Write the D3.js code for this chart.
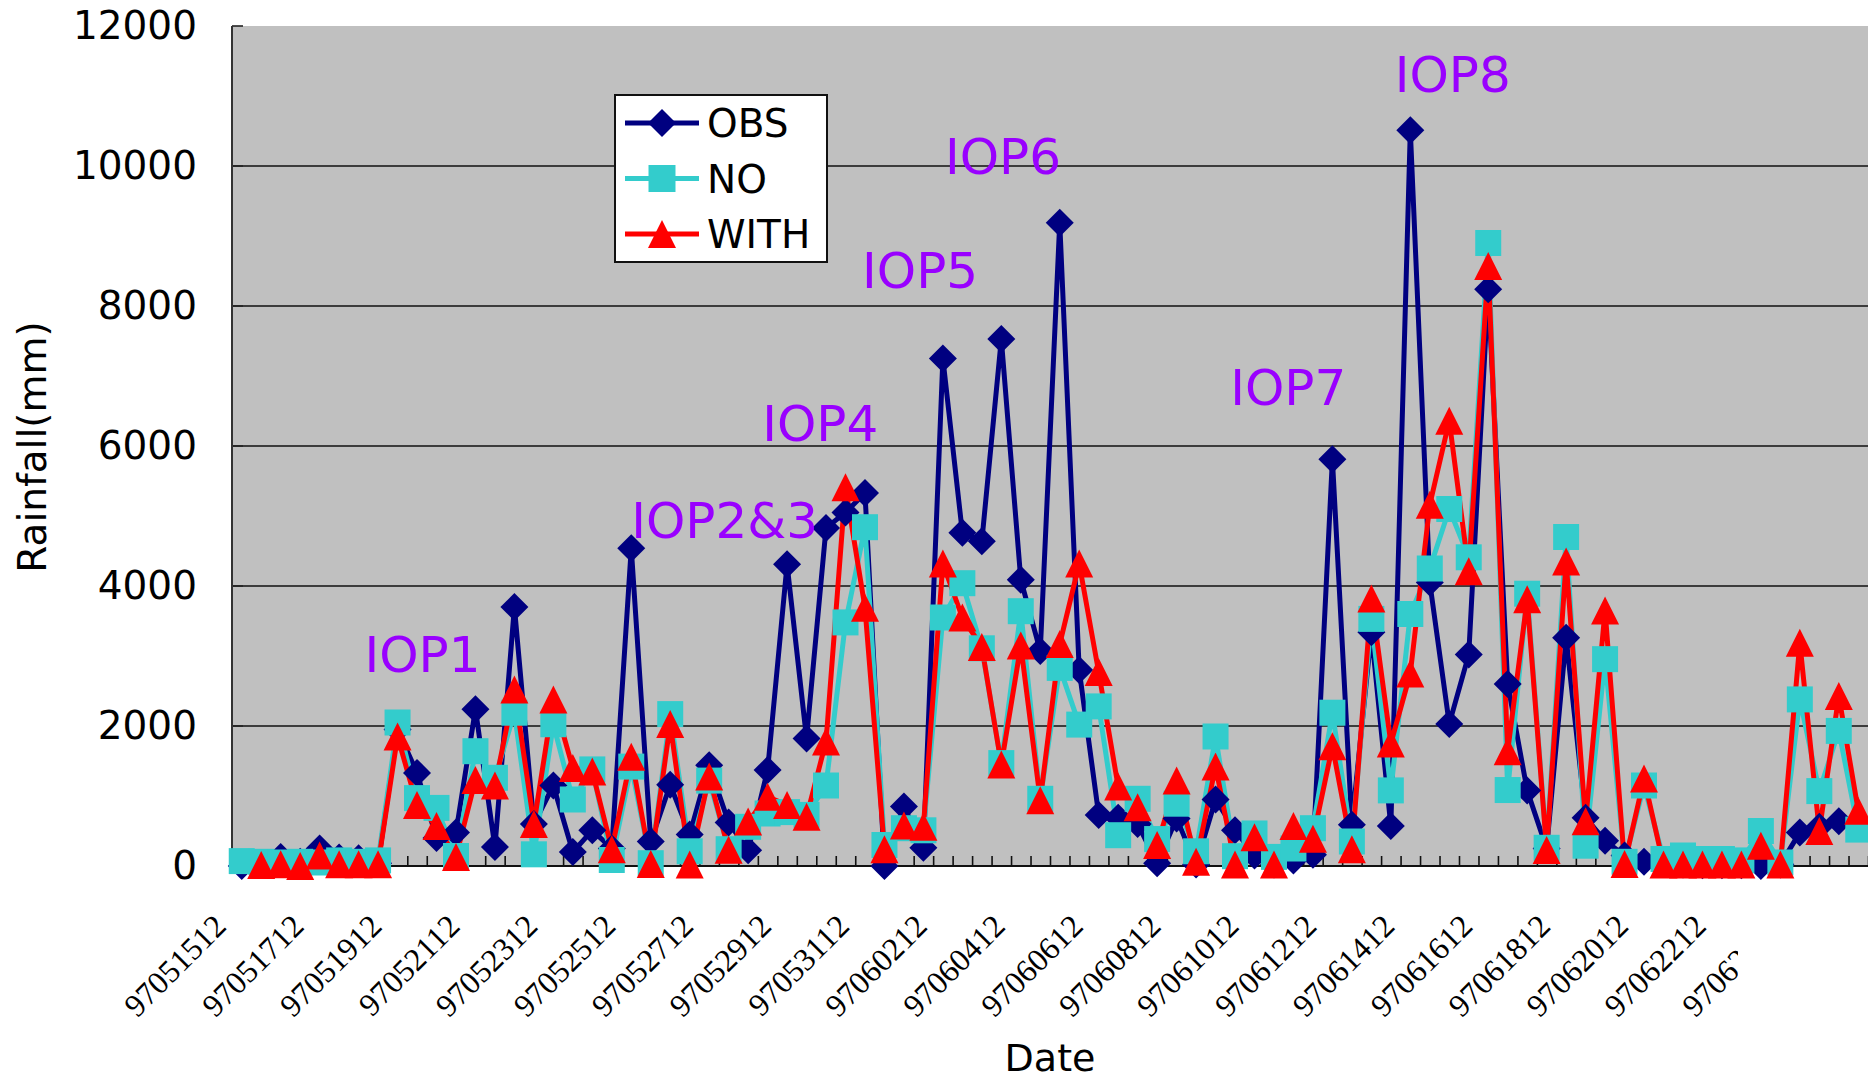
<!DOCTYPE html>
<html><head><meta charset="utf-8">
<script src="https://cdn.jsdelivr.net/npm/d3@7"></script>
<style>html,body{margin:0;padding:0;background:#fff;overflow:hidden;} svg{display:block;}</style>
</head><body><svg id="chart" width="1868" height="1082"></svg>
<script>
// ---------------- data ----------------
const categories = [
"97051512","97051600","97051612","97051700","97051712","97051800","97051812","97051900",
"97051912","97052000","97052012","97052100","97052112","97052200","97052212","97052300",
"97052312","97052400","97052412","97052500","97052512","97052600","97052612","97052700",
"97052712","97052800","97052812","97052900","97052912","97053000","97053012","97053100",
"97053112","97060100","97060112","97060200","97060212","97060300","97060312","97060400",
"97060412","97060500","97060512","97060600","97060612","97060700","97060712","97060800",
"97060812","97060900","97060912","97061000","97061012","97061100","97061112","97061200",
"97061212","97061300","97061312","97061400","97061412","97061500","97061512","97061600",
"97061612","97061700","97061712","97061800","97061812","97061900","97061912","97062000",
"97062012","97062100","97062112","97062200","97062212","97062300","97062312","97062400",
"97062412","97062500","97062512","97062600"];

const obs = [
0,20,130,60,250,120,110,40,
1950,1330,400,480,2240,270,3700,600,
1150,200,510,250,4540,350,1160,450,
1440,620,225,1370,4310,1820,4830,5050,
5330,0,850,260,7250,4760,4640,7530,
4090,3070,9190,2800,730,690,600,40,
680,20,950,510,150,20,80,160,
5810,590,3340,570,10510,4050,2030,3020,
8240,2600,1080,250,3260,690,360,150,
60,50,20,10,10,10,0,20,
480,560,640,600];

const noDA = [
70,60,50,60,50,80,60,80,
2050,970,830,143,1640,1260,2190,167,
2025,950,1380,86,1420,40,2170,210,
1220,240,560,750,770,730,1150,3480,
4840,300,540,510,3550,4040,3110,1470,
3640,960,2830,2020,2280,440,960,385,
890,210,1850,140,465,130,250,540,
2190,350,3530,1080,3600,4250,5100,4410,
8900,1085,3890,260,4700,290,2955,60,
1150,100,150,100,100,80,500,50,
2380,1070,1930,520];

const withDA = [
null,15,25,0,150,25,25,25,
1850,870,570,130,1230,1150,2520,600,
2380,1400,1350,240,1560,30,2030,20,
1280,232,634,990,870,705,1780,5410,
3690,240,580,560,4320,3550,3130,1450,
3150,940,3170,4320,2770,1135,840,300,
1220,60,1420,20,410,20,570,390,
1710,240,3820,1750,2750,5160,6360,4210,
8570,1640,3810,230,4350,640,3650,30,
1250,20,20,20,20,20,290,20,
3190,500,2430,790];

const seriesNames = ["OBS", "NO", "WITH"];
const yTicks = [0, 2000, 4000, 6000, 8000, 10000, 12000];
const labelStep = 4;

// IOP annotations, placed in data units (category slot, rainfall value)
const iopText  = ["IOP1", "IOP2&3", "IOP4", "IOP5", "IOP6", "IOP7", "IOP8"];
const iopSlot  = [6.80, 20.50, 27.22, 32.35, 36.61, 51.25, 59.70];
const iopValue = [2772, 4687, 6073, 8259, 9889, 6588, 11060];

// ---------------- layout / style ----------------
const W = 1868, H = 1082;
const M = {left: 232, right: 1868, top: 26, bottom: 866};
const colors = {OBS: "#000080", NO: "#33CCCC", WITH: "#FF0000"};
const shapes = {OBS: "diamond", NO: "square", WITH: "triangle"};
const sansFont = "'DejaVu Sans', Verdana, sans-serif";
const serifFont = "'Liberation Serif', 'Times New Roman', serif";

const svg = d3.select("#chart");

const x = d3.scaleBand().domain(categories).range([M.left, M.right]).paddingInner(0).paddingOuter(0);
const slot = d3.scaleLinear().domain([0, categories.length]).range([M.left, M.right]);
const y = d3.scaleLinear().domain([0, 12000]).range([M.bottom, M.top]);
const cx = i => x(categories[i]) + x.bandwidth() / 2;

function markerPath(type, s) {
  const h = s / 2;
  if (type === "diamond") return `M0,${-h}L${h},0L0,${h}L${-h},0Z`;
  if (type === "square") { const q = h - 0.5; return `M${-q},${-q}H${q}V${q}H${-q}Z`; }
  return `M0,${-h}L${h},${h}L${-h},${h}Z`;
}

// plot background
svg.append("rect").attr("x", M.left).attr("y", M.top)
  .attr("width", M.right - M.left).attr("height", M.bottom - M.top)
  .attr("fill", "#C0C0C0");

// gridlines
svg.append("g").selectAll("line").data(yTicks.filter(v => v > 0 && v < 12000)).join("line")
  .attr("x1", M.left).attr("x2", M.right)
  .attr("y1", d => y(d)).attr("y2", d => y(d))
  .attr("stroke", "#111").attr("stroke-width", 1.6);

// y axis (labels)
const yAxis = svg.append("g").attr("transform", `translate(${M.left},0)`)
  .call(d3.axisLeft(y).tickValues(yTicks).tickSize(0).tickPadding(35).tickFormat(d3.format("d")));
yAxis.select(".domain").remove();
yAxis.selectAll("text").attr("font-family", sansFont).attr("font-size", 39).attr("fill", "#000");
// inner y ticks
svg.append("g").selectAll("line").data(yTicks).join("line")
  .attr("x1", M.left).attr("x2", M.left + 11)
  .attr("y1", d => y(d)).attr("y2", d => y(d))
  .attr("stroke", "#222").attr("stroke-width", 1.6);
svg.append("line").attr("x1", M.left).attr("x2", M.left).attr("y1", M.top).attr("y2", M.bottom)
  .attr("stroke", "#333").attr("stroke-width", 2);

// x axis ticks (inside, at category boundaries)
const xAxis = svg.append("g").attr("transform", `translate(0,${M.bottom})`)
  .call(d3.axisBottom(slot).tickValues(d3.range(categories.length + 1)).tickSize(-10).tickFormat(""));
xAxis.select(".domain").remove();
xAxis.selectAll("line").attr("stroke", "#111").attr("stroke-width", 1.6);
svg.append("line").attr("x1", M.left).attr("x2", M.right).attr("y1", M.bottom).attr("y2", M.bottom)
  .attr("stroke", "#111").attr("stroke-width", 2);

// x tick labels, rotated
const defs = svg.append("defs");
defs.append("clipPath").attr("id", "lastLabelClip")
  .append("rect").attr("x", 0).attr("y", 0).attr("width", 1738).attr("height", H);
const labIdx = d3.range(0, categories.length, labelStep);
const labG = svg.append("g");
labIdx.forEach(i => {
  const g = labG.append("g");
  if (i === 80) g.attr("clip-path", "url(#lastLabelClip)");
  g.append("text")
    .attr("transform", `translate(${cx(i) - 14},928) rotate(-45)`)
    .attr("text-anchor", "end")
    .attr("font-family", serifFont).attr("font-size", 32).attr("fill", "#000")
    .text(categories[i]);
});

// axis titles
svg.append("text").attr("x", 1050).attr("y", 1071).attr("text-anchor", "middle")
  .attr("font-family", sansFont).attr("font-size", 38).attr("fill", "#000").text("Date");
svg.append("text").attr("transform", "translate(46,447) rotate(-90)").attr("text-anchor", "middle")
  .attr("font-family", sansFont).attr("font-size", 39).attr("fill", "#000").text("Rainfall(mm)");

// series
const series = [
  {name: seriesNames[0], values: obs},
  {name: seriesNames[1], values: noDA},
  {name: seriesNames[2], values: withDA}
];
const line = d3.line().defined(d => d != null).x((d, i) => cx(i)).y(d => y(d));

const linesG = svg.append("g");
series.forEach(s => {
  linesG.append("path").datum(s.values)
    .attr("d", line).attr("fill", "none")
    .attr("stroke", colors[s.name]).attr("stroke-width", 5)
    .attr("stroke-linejoin", "round").attr("stroke-linecap", "round");
});
const markG = svg.append("g");
series.forEach(s => {
  markG.append("g").selectAll("path")
    .data(s.values.map((v, i) => ({v, i})).filter(d => d.v != null))
    .join("path")
    .attr("transform", d => `translate(${cx(d.i)},${y(d.v)})`)
    .attr("d", markerPath(shapes[s.name], s.name === "NO" ? 27 : 28))
    .attr("fill", colors[s.name]);
});

// IOP annotations
svg.append("g").selectAll("text").data(iopText).join("text")
  .attr("x", (d, k) => slot(iopSlot[k]))
  .attr("y", (d, k) => y(iopValue[k]))
  .attr("font-family", sansFont).attr("font-size", 50).attr("fill", "#9900FF")
  .text(d => d);

// legend
const lg = svg.append("g");
lg.append("rect").attr("x", 615).attr("y", 95).attr("width", 212).attr("height", 167)
  .attr("fill", "#fff").attr("stroke", "#111").attr("stroke-width", 2);
seriesNames.forEach((name, k) => {
  const ry = 123 + k * 55.5;
  lg.append("line").attr("x1", 625).attr("x2", 699).attr("y1", ry).attr("y2", ry)
    .attr("stroke", colors[name]).attr("stroke-width", 5);
  lg.append("path").attr("transform", `translate(662,${ry})`)
    .attr("d", markerPath(shapes[name], 28)).attr("fill", colors[name]);
  lg.append("text").attr("x", 707).attr("y", ry + 14)
    .attr("font-family", sansFont).attr("font-size", 39).attr("fill", "#000").text(name);
});
</script>
</body></html>
